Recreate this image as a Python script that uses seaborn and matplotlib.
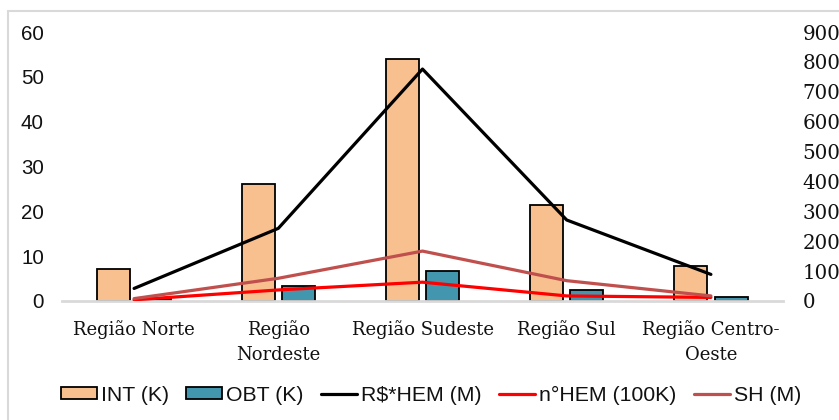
import matplotlib
matplotlib.use("Agg")
import matplotlib.pyplot as plt
from matplotlib.lines import Line2D
from matplotlib.patches import Patch
import numpy as np
import pandas as pd
import seaborn as sns

# Regions and measured series
regioes = ["Região Norte", "Região\nNordeste", "Região Sudeste", "Região Sul", "Região Centro-\nOeste"]
int_k = [7.2, 26.2, 53.9, 21.4, 7.8]
obt_k = [0.5, 3.4, 6.8, 2.4, 0.8]
custo_hem_m = [42, 243, 776, 271, 89]
n_hem_100k = [4, 37, 63, 17, 12]
sh_m = [8, 76, 167, 68, 17]

left_ticks = [0, 10, 20, 30, 40, 50, 60]
right_ticks = [0, 100, 200, 300, 400, 500, 600, 700, 800, 900]

bar_colors = {"INT (K)": "#F9C08F", "OBT (K)": "#4297AF"}
line_styles = [
    ("R$*HEM (M)", custo_hem_m, "#000000"),
    ("n°HEM (100K)", n_hem_100k, "#FF0000"),
    ("SH (M)", sh_m, "#C0504D"),
]

sns.set_theme(style="white")
plt.rcParams["font.family"] = ["Liberation Sans", "DejaVu Sans"]

bars = pd.DataFrame({
    "Região": regioes * 2,
    "valor": int_k + obt_k,
    "serie": ["INT (K)"] * len(regioes) + ["OBT (K)"] * len(regioes),
})

fig = plt.figure(figsize=(8.39, 4.20), dpi=100)
ax = fig.add_axes([62 / 839, 1 - 301 / 420, (783 - 62) / 839, (301 - 32) / 420])

sns.barplot(data=bars, x="Região", y="valor", hue="serie", palette=bar_colors,
            width=0.56, gap=0.18, edgecolor="black", linewidth=1.3,
            saturation=1, ax=ax, legend=False, errorbar=None)

ax.set_ylim(0, 60)
ax.set_xlim(-0.5, len(regioes) - 0.5)
ax.set_yticks(left_ticks)
ax.set_yticklabels([str(t) for t in left_ticks], fontsize=14.8, color="#111111")
ax.tick_params(axis="y", length=0, pad=13)
ax.tick_params(axis="x", length=0, pad=14)
ax.set_xticks(range(len(regioes)))
ax.set_xticklabels(regioes, family="DejaVu Serif", fontsize=13, color="#111111",
                   linespacing=1.45)
ax.set_xlabel("")
ax.set_ylabel("")
for side in ["top", "right", "left"]:
    ax.spines[side].set_visible(False)
ax.spines["bottom"].set_color("#D9D9D9")
ax.spines["bottom"].set_linewidth(2)

ax2 = ax.twinx()
xs = np.arange(len(regioes))
for nome, valores, cor in line_styles:
    sns.lineplot(x=xs, y=valores, color=cor, linewidth=2.3, ax=ax2, legend=False)
ax2.set_ylim(0, 900)
ax2.set_xlim(-0.5, len(regioes) - 0.5)
ax2.set_yticks(right_ticks)
ax2.set_yticklabels([str(t) for t in right_ticks], family="DejaVu Serif",
                    fontsize=14.3, color="#111111")
ax2.tick_params(axis="y", length=0, pad=14)
ax2.set_ylabel("")
for side in ["top", "right", "left", "bottom"]:
    ax2.spines[side].set_visible(False)

handles = [Patch(facecolor=c, edgecolor="black", linewidth=1.3, label=k)
           for k, c in bar_colors.items()]
handles += [Line2D([0], [0], color=c, linewidth=2.3, label=n) for n, _, c in line_styles]
fig.legend(handles=handles, loc="center", bbox_to_anchor=(431 / 839, 1 - 395 / 420),
           ncol=5, frameon=False, fontsize=15.3, handlelength=1.7,
           handleheight=0.55, handletextpad=0.2, columnspacing=0.8,
           labelcolor="#111111")

# Outer chart frame
fig.add_artist(Line2D([8 / 839, 8 / 839], [0, 1 - 11 / 420], transform=fig.transFigure,
                      color="#D9D9D9", linewidth=1.5))
fig.add_artist(Line2D([8 / 839, 1], [1 - 11 / 420, 1 - 11 / 420], transform=fig.transFigure,
                      color="#D9D9D9", linewidth=1.5))

fig.savefig("out.png", dpi=100)
